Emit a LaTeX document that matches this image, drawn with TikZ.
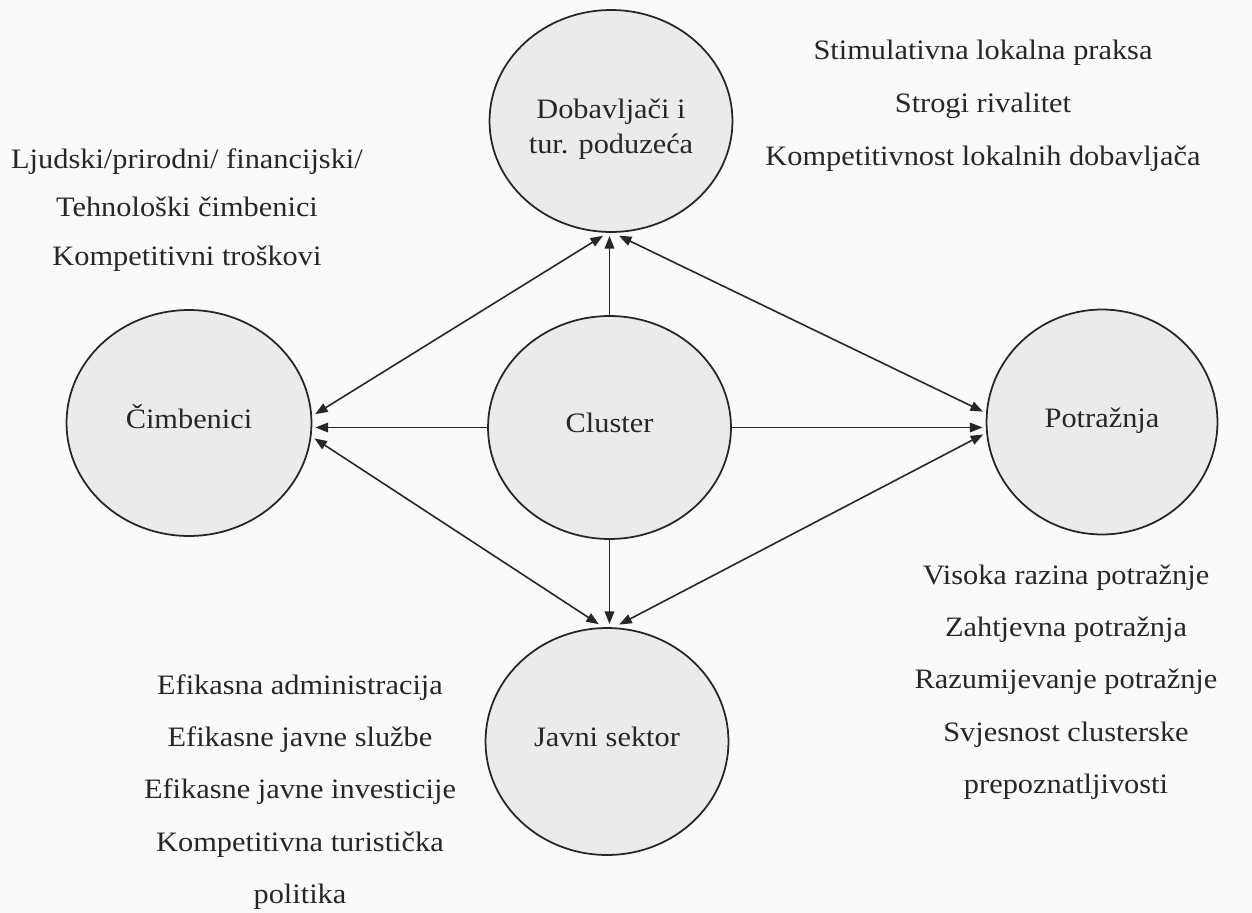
\documentclass[tikz,border=0pt]{standalone}
\usepackage{fontspec}
\setmainfont{Liberation Serif}[FakeStretch=1.08]
\usetikzlibrary{shapes.geometric,arrows.meta}
\begin{document}
\begin{tikzpicture}[x=0.02cm,y=-0.02cm,
  every node/.style={text=black!85},
  circ/.style={ellipse, draw=black!85, line width=1pt, fill=white!92!black,
    inner sep=0pt, outer sep=2.3pt, align=center, font=\fontsize{16}{20}\selectfont},
  one/.style={text height=9pt, text depth=3.3pt},
  arr/.style={line width=0.9pt, draw=black!85, -{Triangle[length=0.25cm,width=0.19cm]}},
  darr/.style={line width=0.9pt, draw=black!85,
    {Triangle[length=0.25cm,width=0.19cm]}-{Triangle[length=0.25cm,width=0.19cm]}},
  txt/.style={align=center, anchor=base, inner sep=0pt}
]
\path[use as bounding box, fill=white!98!black] (0,0) rectangle (1252,913);

% circles
\node[circ, minimum width=4.86cm, minimum height=4.44cm] (dob) at (611,121)
  {\rule{0pt}{20pt}Dobavljači i\\tur. poduzeća};
\node[circ, one, minimum width=4.90cm, minimum height=4.52cm] (fac) at (189,423) {Čimbenici};
\node[circ, one, minimum width=4.86cm, minimum height=4.46cm, outer sep=0pt] (clu) at (609.5,427.5) {Cluster};
\node[circ, one, minimum width=4.62cm, minimum height=4.50cm] (dem) at (1102,422) {Potražnja};
\node[circ, one, minimum width=4.86cm, minimum height=4.54cm] (pub) at (607,741.5) {Javni sektor};

% text blocks (anchored at the baseline of their last line)
\node[txt, font=\fontsize{16}{27.6}\selectfont] (factxt) at (187,265)
  {Ljudski/prirodni/ financijski/\\Tehnološki čimbenici\\Kompetitivni troškovi};
\node[txt, font=\fontsize{16}{29.9}\selectfont] (suptxt) at (983,165)
  {Stimulativna lokalna praksa\\Strogi rivalitet\\Kompetitivnost lokalnih dobavljača};
\node[txt, font=\fontsize{16}{29.6}\selectfont] (demtxt) at (1066,793)
  {Visoka razina potražnje\\Zahtjevna potražnja\\Razumijevanje potražnje\\Svjesnost clusterske\\prepoznatljivosti};
\node[txt, font=\fontsize{16}{29.6}\selectfont] (pubtxt) at (300,903)
  {Efikasna administracija\\Efikasne javne službe\\Efikasne javne investicije\\Kompetitivna turistička\\politika};

% connectors
\draw[arr] (clu.north) -- (clu.north |- dob.south);
\draw[arr] (clu.south) -- (clu.south |- pub.north);
\draw[arr] (clu.west) -- (clu.west -| fac.east);
\draw[arr] (clu.east) -- (clu.east -| dem.west);
\draw[darr] (fac.4.5) -- (dob.266);
\draw[darr] (dob.274) -- (dem.175);
\draw[darr] (fac.-7.5) -- (pub.94);
\draw[darr] (pub.84) -- (dem.186);
\end{tikzpicture}
\end{document}
